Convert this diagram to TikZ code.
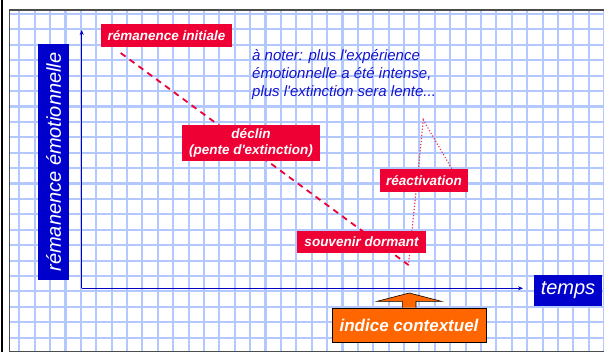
\documentclass[tikz,border=0pt]{standalone}
\usepackage{fontspec}
\setmainfont{Liberation Sans}[Ligatures=TeXOff]
\usetikzlibrary{arrows.meta}

\definecolor{gridblue}{RGB}{178,200,255}
\definecolor{boxred}{RGB}{238,0,52}
\definecolor{axisblue}{RGB}{0,0,200}
\definecolor{labelblue}{RGB}{0,0,204}
\definecolor{notetext}{RGB}{20,20,205}
\definecolor{cueorange}{RGB}{255,102,0}

\tikzset{
  redbox/.style={fill=boxred, text=white, inner xsep=6pt, inner ysep=0pt,
    minimum height=23pt, font=\bfseries\itshape\fontsize{13.5}{16.5}\selectfont},
  bluebox/.style={fill=labelblue, text=white, inner sep=0pt,
    font=\itshape\fontsize{20}{24}\selectfont},
  axis/.style={draw=axisblue, line width=0.9pt, -{Stealth[length=5pt,width=4pt]}},
  decline/.style={draw=boxred, line width=1.8pt, dash pattern=on 6pt off 5pt},
  revival/.style={draw=boxred!85!white, line width=1.5pt, line cap=round, dash pattern=on 0.1pt off 3pt},
}

\begin{document}
\begin{tikzpicture}[x=1pt,y=-1pt]
\useasboundingbox (0,0) rectangle (604,352);
\fill[white] (0,0) rectangle (604,352);

% grid paper
\begin{scope}
  \clip (9,10) rectangle (604,351);
  \foreach \i in {0,...,38}
    \draw[gridblue, line width=2.1pt] (19.3+15.39*\i,10) -- (19.3+15.39*\i,351);
  \foreach \j in {0,...,22}
    \draw[gridblue, line width=2.1pt] (9,14+15.41*\j) -- (604,14+15.41*\j);
\end{scope}

% frame
\fill[black] (0.6,0) rectangle (3.4,352);
\draw[black!70, line width=1.2pt] (9,10) -- (604,10);
\draw[black!70, line width=0.8pt] (9,10) -- (9,351) -- (604,351);

% axes
\coordinate (origin) at (81.7,288.3);
\coordinate (ytop) at (81.7,30);
\coordinate (xend) at (523,288.3);
\draw[axis] (origin) -- (ytop);
\draw[axis] (origin) -- (xend);

% curve
\coordinate (start) at (120.7,53);
\coordinate (dormant) at (408.5,265);
\coordinate (peak) at (423.3,120);
\coordinate (after) at (456,176);
\draw[decline] (start) -- (dormant);
\draw[revival] (dormant) -- (peak) -- (after);

% labels
\node[bluebox, rotate=90, minimum width=236pt, minimum height=31pt] (ylabel) at (53.5,162) {rémanence émotionnelle};
\node[bluebox, minimum width=68pt, minimum height=31pt] (xlabel) at (568,290.5) {temps};

\node[redbox, minimum width=131pt] (initial) at (166.5,35.5) {rémanence initiale};
\node[redbox, minimum width=138pt, minimum height=36pt, align=center] (slope) at (251,143) {déclin\\(pente d'extinction)};
\node[redbox, minimum width=88pt] (reactivation) at (424,180.5) {réactivation};
\node[redbox, minimum width=129pt, minimum height=22pt] (sleeping) at (361.5,242) {souvenir dormant};

\node[anchor=west, align=left, text=notetext, inner sep=0pt,
  font=\itshape\fontsize{15}{18}\selectfont] (note) at (252,75)
  {à noter: plus l'expérience\\émotionnelle a été intense,\\plus l'extinction sera lente...};

% contextual cue
\node[fill=cueorange, draw=black, line width=0.6pt, text=white, inner sep=0pt,
  minimum width=154pt, minimum height=34pt,
  font=\bfseries\itshape\fontsize{17}{20}\selectfont] (indice) at (409,325) {indice contextuel};
\draw[fill=cueorange, draw=black, line width=0.6pt] (indice.north) ++(-6.7,0)
  -- ++(0,-6.3) -- ++(-25.6,0) -- ++(32.6,-8.4) -- ++(32.4,8.4) -- ++(-25.7,0) -- ++(0,6.3);
\end{tikzpicture}
\end{document}
